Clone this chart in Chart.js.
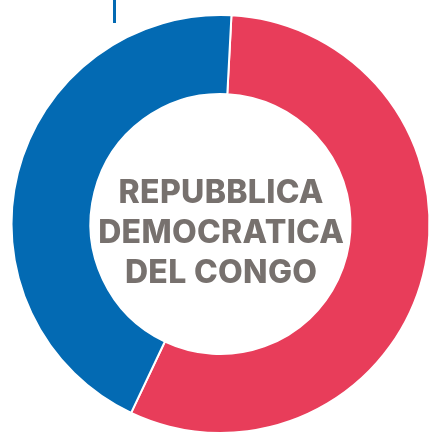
<!DOCTYPE html>
<html>
<head>
<meta charset="utf-8">
<script src="https://cdn.jsdelivr.net/npm/chart.js@4.4.0/dist/chart.umd.min.js"></script>
<style>
  html, body { margin: 0; padding: 0; background: #fff; overflow: hidden; width: 431px; height: 433px; }
  #wrap { position: absolute; left: -10px; top: -6px; width: 461px; height: 460px; }
  #tick { position: absolute; left: 113px; top: 0; width: 3px; height: 23px; background: #036AB3; }
</style>
</head>
<body>
<div id="tick"></div>
<div id="wrap"><canvas id="c" width="461" height="460"></canvas></div>
<script>
const categories = ["Rosso", "Blu"];
const values = [56.2, 43.8];
const colors = ["#E83D5A", "#036AB3"];
const centerLines = ["REPUBBLICA", "DEMOCRATICA", "DEL CONGO"];

const centerText = {
  id: 'centerText',
  afterDraw(chart) {
    const arc = chart.getDatasetMeta(0).data[0];
    const ctx = chart.ctx;
    ctx.save();
    ctx.fillStyle = '#77716E';
    ctx.font = '800 32px Inter';
    ctx.textAlign = 'center';
    ctx.textBaseline = 'alphabetic';
    const target = 246;
    const w0 = ctx.measureText(centerLines[1]).width;
    const ls = (target - w0) / centerLines[1].length;
    ctx.letterSpacing = ls.toFixed(2) + 'px';
    const cx = arc.x + 0.5 + ls / 2, by = arc.y + 19;
    const lh = 40;
    centerLines.forEach((t, i) => {
      ctx.fillText(t, cx, by + (i - 1) * lh);
    });
    ctx.restore();
  }
};

new Chart(document.getElementById('c'), {
  type: 'doughnut',
  data: {
    labels: categories,
    datasets: [{
      data: values,
      backgroundColor: colors,
      borderColor: '#ffffff',
      borderWidth: 2,
      hoverOffset: 0
    }]
  },
  options: {
    responsive: false,
    animation: false,
    rotation: 3,
    radius: 209,
    cutout: '62.2%',
    plugins: { legend: { display: false }, tooltip: { enabled: false } }
  },
  plugins: [centerText]
});
</script>
</body>
</html>
